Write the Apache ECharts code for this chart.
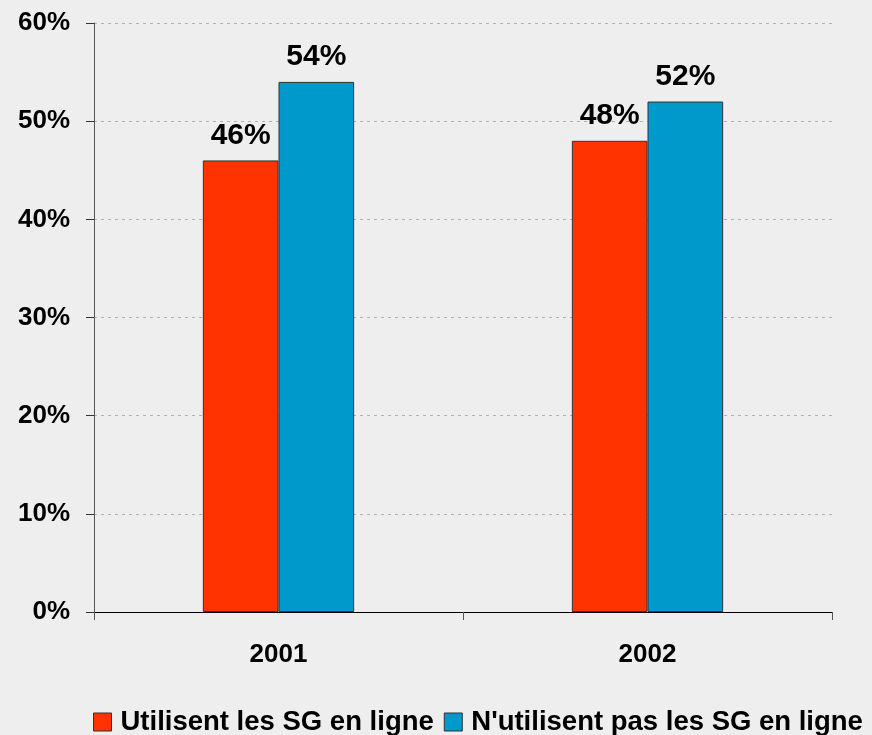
<!DOCTYPE html>
<html><head><meta charset="utf-8">
<script src="https://cdn.jsdelivr.net/npm/echarts@6/dist/echarts.min.js"></script>
<style>html,body{margin:0;padding:0;background:#eeeeee;}#c{width:872px;height:735px;}</style>
</head><body><div id="c"></div>
<script>
const categories = ['2001', '2002'];
const seriesNames = ['Utilisent les SG en ligne', "N'utilisent pas les SG en ligne"];
const usingValues = [46, 48];
const notUsingValues = [54, 52];
const yTicks = [0, 10, 20, 30, 40, 50, 60];

const font = '"Liberation Sans", Arial, sans-serif';
const chart = echarts.init(document.getElementById('c'));
const labelStyle = {show: true, position: 'top', distance: 10, formatter: p => p.value + '%', fontFamily: font, fontWeight: 'bold', fontSize: 30, color: '#000'};
chart.setOption({
  backgroundColor: '#eeeeee',
  animation: false,
  grid: {left: 94, right: 40, top: 23, bottom: 123, containLabel: false},
  legend: {top: 708, left: 93, width: 800, padding: 0, icon: 'rect', itemWidth: 18, itemHeight: 18, itemGap: 10,
    itemStyle: {borderColor: '#333', borderWidth: 1},
    textStyle: {fontFamily: font, fontWeight: 'bold', fontSize: 27.5, color: '#000', padding: [0,0,0,4]},
    data: seriesNames},
  xAxis: {type: 'category', data: categories,
    axisLine: {lineStyle: {color: '#000', width: 1}},
    axisTick: {show: true, length: 8, lineStyle: {color: '#555'}},
    axisLabel: {fontFamily: font, fontWeight: 'bold', fontSize: 26, color: '#000', margin: 30}},
  yAxis: {type: 'value', min: 0, max: 60, interval: 10,
    axisLine: {show: true, lineStyle: {color: '#555', width: 1}},
    axisTick: {show: true, length: 8, lineStyle: {color: '#333'}},
    axisLabel: {formatter: v => yTicks.includes(v) ? v + '%' : '', fontFamily: font, fontWeight: 'bold', fontSize: 26, color: '#000', margin: 24},
    splitLine: {show: true, lineStyle: {color: '#b0b0b0', type: [3, 4], width: 1}}},
  series: [
    {name: seriesNames[0], type: 'bar', data: usingValues, barGap: '0%', barCategoryGap: '59%',
     itemStyle: {color: '#ff3300', borderColor: '#333', borderWidth: 1}, label: labelStyle},
    {name: seriesNames[1], type: 'bar', data: notUsingValues,
     itemStyle: {color: '#0099cc', borderColor: '#333', borderWidth: 1}, label: labelStyle}
  ]
});
</script></body></html>
